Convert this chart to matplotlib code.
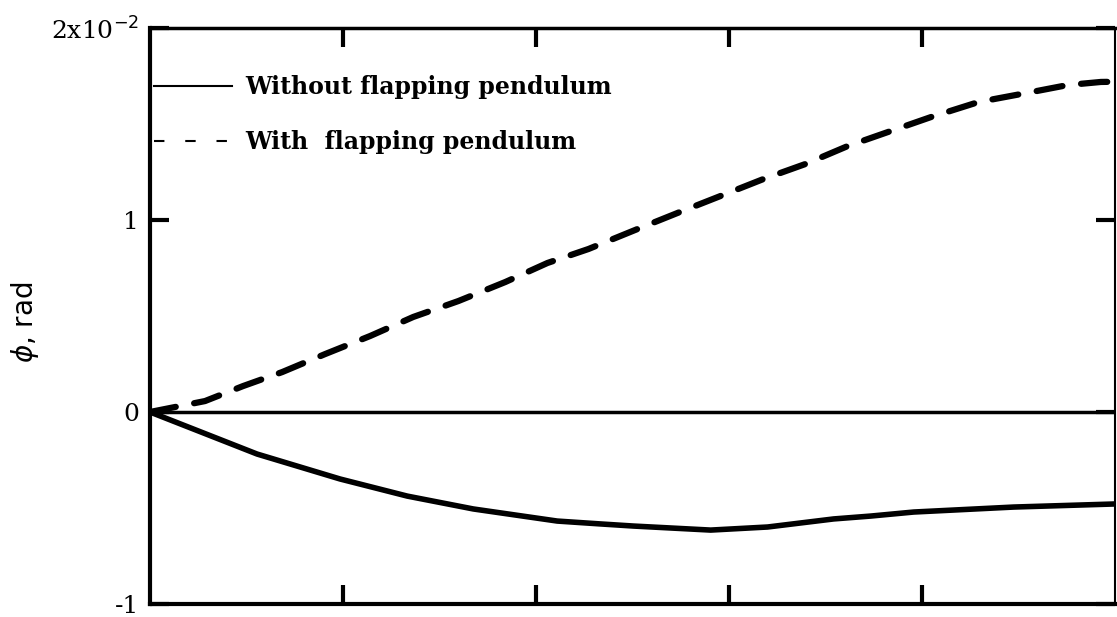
### DEPENDENCIES
### ------------------
import matplotlib
matplotlib.use("Agg")
import matplotlib.pyplot as plt
from matplotlib.lines import Line2D
from matplotlib.ticker import FixedLocator, FixedFormatter

### DATA
### ------------------
t_without = [0, 0.555, 0.985, 1.333, 1.675, 2.11, 2.334, 2.505, 2.905, 3.2,
             3.542, 3.734, 3.957, 4.476, 5.0]
phi_without = [0, -0.00219, -0.00349, -0.00438, -0.00505, -0.00568, -0.00583,
               -0.00594, -0.00615, -0.00599, -0.00557, -0.00542, -0.00521,
               -0.00495, -0.00479]

t_with = [0, 0.285, 0.482, 0.685, 0.908, 1.141, 1.364, 1.598, 1.841, 2.059,
          2.272, 2.526, 2.759, 2.956, 3.180, 3.397, 3.615, 3.823, 4.046,
          4.295, 4.539, 4.756, 4.927, 5.0]
phi_with = [0, 0.00057, 0.00135, 0.00208, 0.00302, 0.00396, 0.00495, 0.00578,
            0.00677, 0.00776, 0.00849, 0.00953, 0.01047, 0.01125, 0.01214,
            0.01292, 0.01385, 0.01458, 0.01536, 0.01615, 0.01661, 0.01703,
            0.01719, 0.01720]

y_ticks = [-0.01, 0, 0.01, 0.02]
y_ticklabels = ['-1', '0', '1', r'2x10$^{-2}$']
x_ticks = [1, 2, 3, 4]
labels = ['Without flapping pendulum', 'With  flapping pendulum']

### PLOT
### ------------------
fig = plt.figure(figsize=(11.17, 6.17), dpi=100)
ax = fig.add_axes([150/1117, 13/617, 965/1117, 576/617])

ax.axhline(0, color='black', lw=2.5, zorder=2)
ax.plot(t_without, phi_without, color='black', lw=4, solid_capstyle='round',
        solid_joinstyle='round', zorder=3)
dash, = ax.plot(t_with, phi_with, color='black', lw=4.5, zorder=3)
dash.set_dashes((4.2, 3.0))
dash.set_dash_capstyle('round')

ax.set_xlim(0, 5)
ax.set_ylim(-0.01, 0.02)

ax.xaxis.set_major_locator(FixedLocator(x_ticks))
ax.set_xticklabels([])
ax.tick_params(axis='x', direction='in', length=14, width=3, top=True, bottom=True)

ax.yaxis.set_major_locator(FixedLocator(y_ticks))
ax.yaxis.set_major_formatter(FixedFormatter(y_ticklabels))
ax.tick_params(axis='y', direction='in', length=14, width=3, left=True, right=True,
               labelsize=18, pad=8)
for lab in ax.get_yticklabels():
    lab.set_family('DejaVu Serif')

ax.spines['left'].set_linewidth(3)
ax.spines['bottom'].set_linewidth(3)
ax.spines['top'].set_linewidth(2.5)
ax.spines['right'].set_linewidth(1.5)

ax.set_ylabel(r'$\phi$, rad', fontsize=20, va='center', ha='center')
ax.yaxis.set_label_coords(-0.13, 0.49)

handles = [Line2D([], [], color='black', lw=1.5),
           Line2D([], [], color='black', lw=1.5, dashes=(5, 10))]
ax.legend(handles, labels, loc='upper left', bbox_to_anchor=(0.004, 0.918),
          frameon=False, handlelength=3.3, handletextpad=0.55, labelspacing=1.3,
          borderpad=0, borderaxespad=0,
          prop={'family': 'DejaVu Serif', 'weight': 'bold', 'size': 17})

fig.savefig('out.png', dpi=100)
